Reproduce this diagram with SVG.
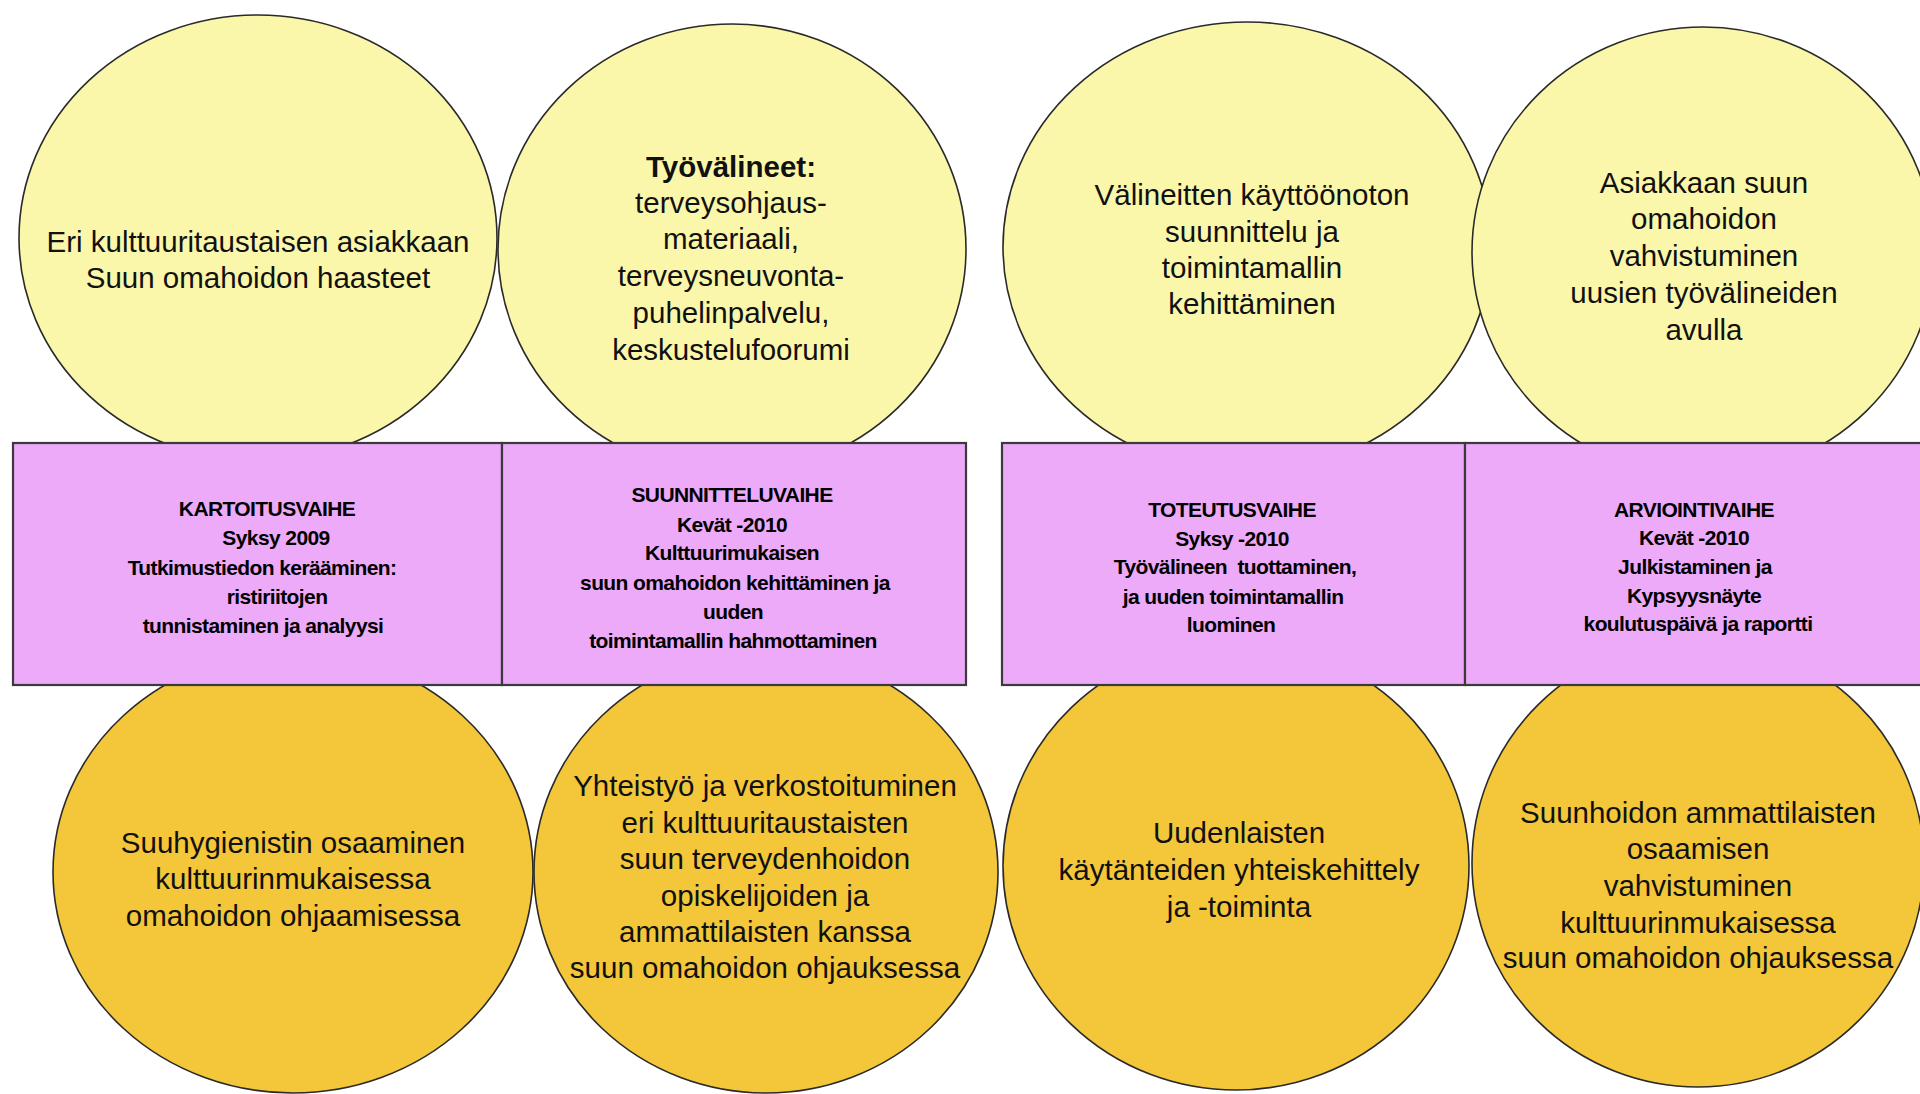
<svg xmlns="http://www.w3.org/2000/svg" width="1920" height="1094" viewBox="0 0 1920 1094">
<style>
.top{fill:#FBF7AA;stroke:#2a2a2a;stroke-width:1.6}
.bot{fill:#F4C63A;stroke:#2a2a2a;stroke-width:1.6}
.phase{fill:#ECAAF9;stroke:#3a3a3a;stroke-width:2.2}
.t{font-family:"Liberation Sans",Arial,sans-serif;font-size:29.5px;fill:#111;text-anchor:middle}
.b{font-weight:bold}
.r{font-family:"Liberation Sans",Arial,sans-serif;font-size:21px;font-weight:bold;letter-spacing:-0.6px;fill:#000;text-anchor:middle}
</style>
<rect width="1920" height="1094" fill="#ffffff"/>
<g id="connectors"/>
<g id="ellipse-top-1">
<ellipse class="top" cx="258" cy="238" rx="239" ry="223"/>
<text class="t" x="258" y="252">Eri kulttuuritaustaisen asiakkaan</text>
<text class="t" x="258" y="288">Suun omahoidon haasteet</text>
</g>
<g id="ellipse-top-2">
<ellipse class="top" cx="732" cy="249" rx="234" ry="225"/>
<text class="t b" x="731" y="177">Työvälineet:</text>
<text class="t" x="731" y="213">terveysohjaus-</text>
<text class="t" x="731" y="249">materiaali,</text>
<text class="t" x="731" y="286">terveysneuvonta-</text>
<text class="t" x="731" y="323">puhelinpalvelu,</text>
<text class="t" x="731" y="360">keskustelufoorumi</text>
</g>
<g id="ellipse-top-3">
<ellipse class="top" cx="1247" cy="247" rx="244" ry="225"/>
<text class="t" x="1252" y="205">Välineitten käyttöönoton</text>
<text class="t" x="1252" y="242">suunnittelu ja</text>
<text class="t" x="1252" y="278">toimintamallin</text>
<text class="t" x="1252" y="314">kehittäminen</text>
</g>
<g id="ellipse-top-4">
<ellipse class="top" cx="1703" cy="252" rx="231" ry="225"/>
<text class="t" x="1704" y="193">Asiakkaan suun</text>
<text class="t" x="1704" y="229">omahoidon</text>
<text class="t" x="1704" y="266">vahvistuminen</text>
<text class="t" x="1704" y="303">uusien työvälineiden</text>
<text class="t" x="1704" y="340">avulla</text>
</g>
<g id="ellipse-bottom-1">
<ellipse class="bot" cx="293" cy="872" rx="240" ry="221"/>
<text class="t" x="293" y="853">Suuhygienistin osaaminen</text>
<text class="t" x="293" y="889">kulttuurinmukaisessa</text>
<text class="t" x="293" y="926">omahoidon ohjaamisessa</text>
</g>
<g id="ellipse-bottom-2">
<ellipse class="bot" cx="766" cy="872" rx="232" ry="221"/>
<text class="t" x="765" y="796">Yhteistyö ja verkostoituminen</text>
<text class="t" x="765" y="833">eri kulttuuritaustaisten</text>
<text class="t" x="765" y="869">suun terveydenhoidon</text>
<text class="t" x="765" y="906">opiskelijoiden ja</text>
<text class="t" x="765" y="942">ammattilaisten kanssa</text>
<text class="t" x="765" y="978">suun omahoidon ohjauksessa</text>
</g>
<g id="ellipse-bottom-3">
<ellipse class="bot" cx="1236" cy="866" rx="233" ry="224"/>
<text class="t" x="1239" y="843">Uudenlaisten</text>
<text class="t" x="1239" y="880">käytänteiden yhteiskehittely</text>
<text class="t" x="1239" y="917">ja -toiminta</text>
</g>
<g id="ellipse-bottom-4">
<ellipse class="bot" cx="1698" cy="863" rx="226" ry="224"/>
<text class="t" x="1698" y="823">Suunhoidon ammattilaisten</text>
<text class="t" x="1698" y="859">osaamisen</text>
<text class="t" x="1698" y="896">vahvistuminen</text>
<text class="t" x="1698" y="933">kulttuurinmukaisessa</text>
<text class="t" x="1698" y="968">suun omahoidon ohjauksessa</text>
</g>
<g id="phase-1">
<rect class="phase" x="13" y="443" width="489" height="242"/>
<text class="r" x="267" y="516">KARTOITUSVAIHE</text>
<text class="r" x="276" y="545">Syksy 2009</text>
<text class="r" x="262" y="575">Tutkimustiedon kerääminen:</text>
<text class="r" x="277" y="604">ristiriitojen</text>
<text class="r" x="263" y="633">tunnistaminen ja analyysi</text>
</g>
<g id="phase-2">
<rect class="phase" x="502" y="443" width="464" height="242"/>
<text class="r" x="732" y="502">SUUNNITTELUVAIHE</text>
<text class="r" x="732" y="532">Kevät -2010</text>
<text class="r" x="732" y="560">Kulttuurimukaisen</text>
<text class="r" x="735" y="590">suun omahoidon kehittäminen ja</text>
<text class="r" x="733" y="619">uuden</text>
<text class="r" x="733" y="648">toimintamallin hahmottaminen</text>
</g>
<g id="phase-3">
<rect class="phase" x="1002" y="443" width="463" height="242"/>
<text class="r" x="1232" y="517">TOTEUTUSVAIHE</text>
<text class="r" x="1232" y="546">Syksy -2010</text>
<text class="r" x="1235" y="574" xml:space="preserve">Työvälineen  tuottaminen,</text>
<text class="r" x="1233" y="604">ja uuden toimintamallin</text>
<text class="r" x="1231" y="632">luominen</text>
</g>
<g id="phase-4">
<rect class="phase" x="1465" y="443" width="462" height="242"/>
<text class="r" x="1694" y="517">ARVIOINTIVAIHE</text>
<text class="r" x="1694" y="545">Kevät -2010</text>
<text class="r" x="1695" y="574">Julkistaminen ja</text>
<text class="r" x="1694" y="603">Kypsyysnäyte</text>
<text class="r" x="1698" y="631">koulutuspäivä ja raportti</text>
</g>
</svg>
